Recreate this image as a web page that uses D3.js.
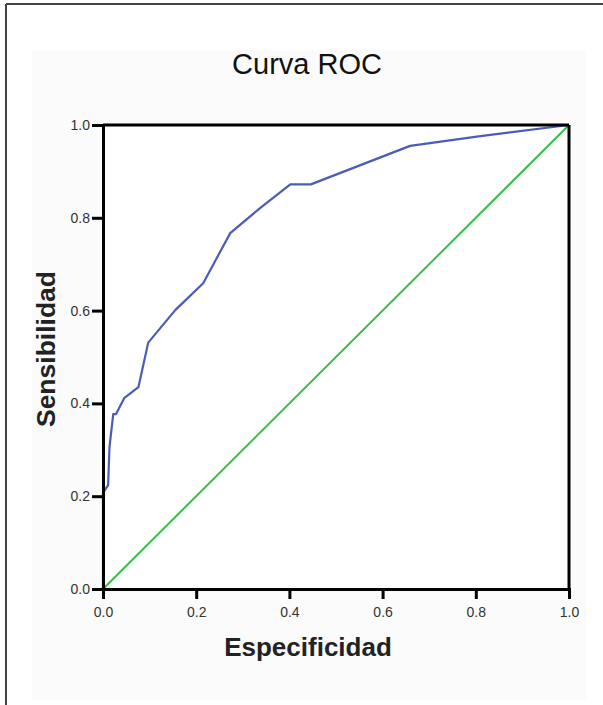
<!DOCTYPE html>
<html>
<head>
<meta charset="utf-8">
<script src="https://cdn.jsdelivr.net/npm/d3@7"></script>
<style>
  body { margin: 0; background: #fff; }
  svg { display: block; }
</style>
</head>
<body>
<script>
// ROC curve: 1 - specificity (x) vs sensitivity (y)
const rocX = [0, 0, 0.011, 0.014, 0.022, 0.028, 0.046, 0.076, 0.097, 0.155, 0.215, 0.273, 0.337, 0.402, 0.446, 0.659, 0.81, 1.0];
const rocY = [0, 0.207, 0.224, 0.307, 0.377, 0.377, 0.412, 0.435, 0.531, 0.601, 0.659, 0.767, 0.821, 0.872, 0.872, 0.955, 0.976, 1.0];
const refX = [0, 1];
const refY = [0, 1];
const ticks = [0, 0.2, 0.4, 0.6, 0.8, 1.0];

const W = 603, H = 705;
const m = { left: 103, right: 569, top: 125, bottom: 589 };

const svg = d3.select("body").append("svg")
  .attr("width", W).attr("height", H);

// outer frame (top + left only) and faint panel
svg.append("rect")
  .attr("x", 32).attr("y", 50).attr("width", 554).attr("height", 650)
  .attr("fill", "#fbfbfb");
svg.append("line").attr("x1", 6).attr("x2", W).attr("y1", 4).attr("y2", 4)
  .attr("stroke", "#444").attr("stroke-width", 2);
svg.append("line").attr("x1", 6).attr("x2", 6).attr("y1", 4).attr("y2", H)
  .attr("stroke", "#444").attr("stroke-width", 2);

let x = d3.scaleLinear().domain([0, 1]).range([m.left, m.right]);
let y = d3.scaleLinear().domain([0, 1]).range([m.bottom, m.top]);

svg.append("rect")
  .attr("x", m.left).attr("y", m.top)
  .attr("width", m.right - m.left).attr("height", m.bottom - m.top)
  .attr("fill", "#fff");

// reference diagonal
const line = d3.line().x(d => x(d[0])).y(d => y(d[1]));
svg.append("path")
  .attr("d", line(d3.zip(refX, refY)))
  .attr("fill", "none")
  .attr("stroke", "#35c044")
  .attr("stroke-width", 2);

// ROC curve
svg.append("path")
  .attr("d", line(d3.zip(rocX, rocY)))
  .attr("fill", "none")
  .attr("stroke", "#4a5cb8")
  .attr("stroke-width", 2.2)
  .attr("stroke-linejoin", "round");

// box top / right
svg.append("line").attr("x1", m.left).attr("x2", m.right).attr("y1", m.top).attr("y2", m.top)
  .attr("stroke", "#000").attr("stroke-width", 3);
svg.append("line").attr("x1", m.right).attr("x2", m.right).attr("y1", m.top).attr("y2", m.bottom)
  .attr("stroke", "#000").attr("stroke-width", 3);

const fmt = d3.format(".1f");

let xAxis = svg.append("g")
  .attr("transform", `translate(0,${m.bottom})`)
  .call(d3.axisBottom(x).tickValues(ticks).tickFormat(fmt).tickSize(10).tickPadding(8));
let yAxis = svg.append("g")
  .attr("transform", `translate(${m.left},0)`)
  .call(d3.axisLeft(y).tickValues(ticks).tickFormat(fmt).tickSize(11).tickPadding(2));

[xAxis, yAxis].forEach(a => {
  a.select(".domain").attr("stroke", "#000").attr("stroke-width", 3);
  a.selectAll(".tick line").attr("stroke", "#000").attr("stroke-width", 3);
  a.selectAll(".tick text")
    .attr("fill", "#333")
    .style("font-family", "Liberation Sans, Arial, sans-serif")
    .style("font-size", "14px");
});

// titles
svg.append("text")
  .attr("x", 307).attr("y", 74)
  .attr("text-anchor", "middle")
  .style("font-family", "Liberation Sans, Arial, sans-serif")
  .style("font-size", "29px")
  .attr("fill", "#111")
  .text("Curva ROC");

svg.append("text")
  .attr("x", 308).attr("y", 656)
  .attr("text-anchor", "middle")
  .style("font-family", "Liberation Sans, Arial, sans-serif")
  .style("font-size", "26px")
  .style("font-weight", "bold")
  .attr("fill", "#222")
  .text("Especificidad");

svg.append("text")
  .attr("transform", "translate(55,349) rotate(-90)")
  .attr("text-anchor", "middle")
  .style("font-family", "Liberation Sans, Arial, sans-serif")
  .style("font-size", "26.5px")
  .style("font-weight", "bold")
  .attr("fill", "#222")
  .text("Sensibilidad");
</script>
</body>
</html>
